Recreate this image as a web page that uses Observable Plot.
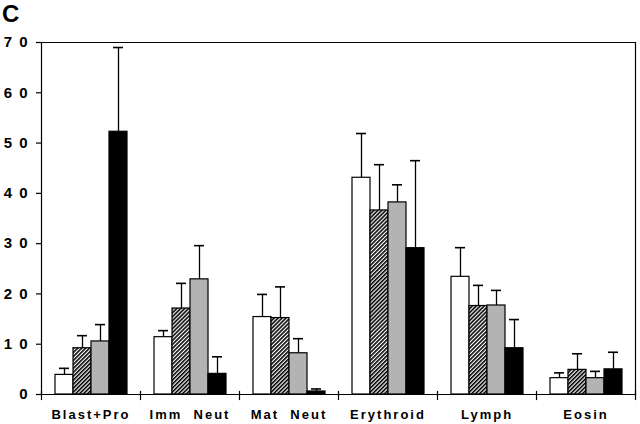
<!DOCTYPE html>
<html><head><meta charset="utf-8">
<script src="https://cdn.jsdelivr.net/npm/d3@7"></script>
<script src="https://cdn.jsdelivr.net/npm/@observablehq/plot@0.6"></script>
<style>
body{margin:0;background:#fff;}
#wrap{position:relative;width:640px;height:424px;}
#panel{position:absolute;left:2px;top:2px;font:bold 24px/24px "Liberation Sans",Arial,sans-serif;color:#000;z-index:2;}
g[aria-label="y-axis tick label"] text{letter-spacing:7px;}
g[aria-label="fx-axis tick label"] text{letter-spacing:2px;white-space:pre;}
</style></head><body>
<div id="wrap"><div id="panel">C</div></div>
<script>
// categories (x groups)
const categories = ["Blast+Pro", "Imm  Neut", "Mat  Neut", "Erythroid", "Lymph", "Eosin"];
// four series (open, hatched, gray, black bars)
const series = ["Series 1", "Series 2", "Series 3", "Series 4"];
// bar heights (means) per series, in category order
const mean1 = [3.9, 11.4, 15.4, 43.1, 23.4, 3.25];
const mean2 = [9.2, 17.1, 15.2, 36.6, 17.6, 4.9];
const mean3 = [10.55, 22.9, 8.2, 38.2, 17.7, 3.25];
const mean4 = [52.25, 4.1, 0.6, 29.1, 9.2, 5.0];
// top of error bars per series
const upper1 = [5.2, 12.7, 19.9, 51.9, 29.2, 4.3];
const upper2 = [11.7, 22.1, 21.4, 45.7, 21.7, 8.1];
const upper3 = [13.9, 29.6, 11.1, 41.7, 20.7, 4.6];
const upper4 = [69.0, 7.5, 1.1, 46.5, 14.9, 8.4];
// y tick values
const yTicks = [0, 10, 20, 30, 40, 50, 60, 70];

const means = [mean1, mean2, mean3, mean4];
const uppers = [upper1, upper2, upper3, upper4];
const rows = [];
categories.forEach((c, i) => series.forEach((s, j) =>
  rows.push({category: c, series: s, mean: means[j][i], upper: uppers[j][i]})));

const plot = Plot.plot({
  width: 640, height: 424,
  marginLeft: 40, marginRight: 4, marginTop: 42, marginBottom: 30,
  style: {fontFamily: "'Liberation Sans', Arial, sans-serif", background: "white", color: "black", overflow: "visible"},
  fx: {domain: categories, padding: 0, label: null, axis: null},
  x: {domain: series, paddingInner: 0, paddingOuter: 0.71, axis: null},
  y: {domain: [0, 70], label: null, axis: null},
  color: {domain: series, range: ["white", "url(#hatch)", "#b3b3b3", "black"]},
  marks: [
    Plot.barY(rows, {fx: "category", x: "series", y: "mean", fill: "series", stroke: "black", strokeWidth: 1.2}),
    Plot.ruleX(rows, {fx: "category", x: "series", y1: "mean", y2: "upper", strokeWidth: 1.3}),
    Plot.tickY(rows, {fx: "category", x: "series", y: "upper", strokeWidth: 1.6, insetLeft: 4, insetRight: 4}),
    Plot.frame({anchor: "top", strokeWidth: 1.2}),
    Plot.frame({anchor: "bottom", strokeWidth: 1.2}),
    Plot.frame({anchor: "left", facetAnchor: "left", strokeWidth: 1.2}),
    Plot.frame({anchor: "right", facetAnchor: "right", strokeWidth: 1.2}),
    Plot.frame({anchor: "left", insetTop: 344, dy: 5, strokeWidth: 1.2}),
    Plot.frame({anchor: "right", facetAnchor: "right", insetTop: 344, dy: 5, strokeWidth: 1.2}),
    Plot.axisY({ticks: yTicks, tickSize: 5, tickPadding: 2, fontSize: 15, fontWeight: "bold", strokeWidth: 1.2, label: null}),
    Plot.axisFx({anchor: "bottom", tickSize: 0, tickPadding: 15, fontSize: 13, fontWeight: "bold", label: null})
  ]
});

const defs = d3.select(plot).insert("defs", ":first-child");
const pat = defs.append("pattern").attr("id", "hatch")
  .attr("patternUnits", "userSpaceOnUse").attr("width", 2.8).attr("height", 2.8)
  .attr("patternTransform", "rotate(45)");
pat.append("rect").attr("width", 2.8).attr("height", 2.8).attr("fill", "white");
pat.append("line").attr("x1", 0.8).attr("y1", 0).attr("x2", 0.8).attr("y2", 2.8)
  .attr("stroke", "black").attr("stroke-width", 1.6);

document.getElementById("wrap").appendChild(plot);
</script>
</body></html>
